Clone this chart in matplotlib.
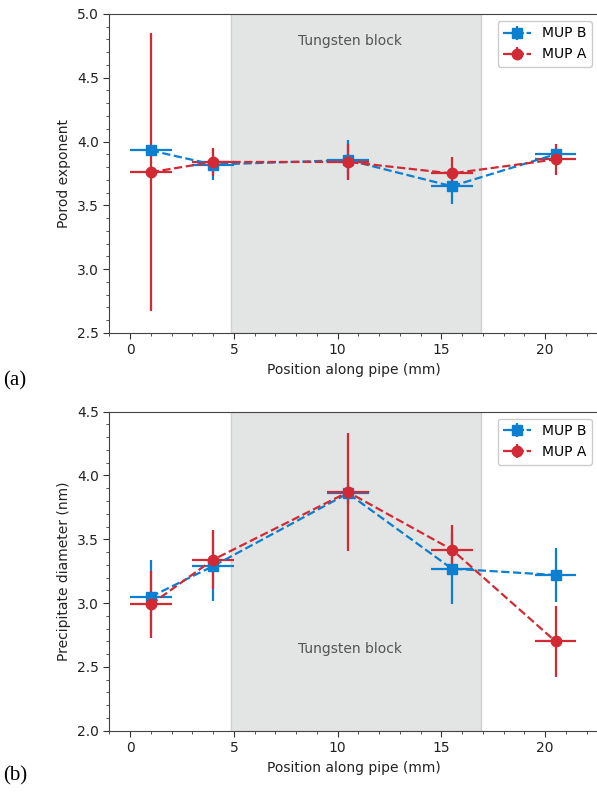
import matplotlib
matplotlib.use("Agg")
import matplotlib.pyplot as plt
from matplotlib.ticker import MultipleLocator

# positions along the pipe (mm), horizontal error is the beam width
pos = [1, 4, 10.5, 15.5, 20.5]
pos_err = [1, 1, 1, 1, 1]

# Porod exponent
porod_b = [3.93, 3.82, 3.855, 3.65, 3.90]
porod_b_err = [0.03, 0.12, 0.16, 0.14, 0.04]
porod_a = [3.76, 3.84, 3.84, 3.75, 3.86]
porod_a_err = [1.09, 0.11, 0.14, 0.13, 0.12]

# Precipitate diameter (nm)
diam_b = [3.05, 3.29, 3.86, 3.27, 3.22]
diam_b_err = [0.29, 0.27, 0.08, 0.28, 0.21]
diam_a = [2.99, 3.34, 3.87, 3.42, 2.70]
diam_a_err = [0.26, 0.23, 0.46, 0.19, 0.28]

block = (4.87, 16.92)
blue = '#0b7fd0'
red = '#d12a35'

plt.rcParams['font.family'] = 'DejaVu Sans'
plt.rcParams['font.size'] = 10

fig = plt.figure(figsize=(5.97, 7.96), dpi=100)
ax1 = fig.add_axes([0.1831, 0.5817, 0.8205, 0.4008])
ax2 = fig.add_axes([0.1831, 0.0820, 0.8205, 0.4008])


def panel(ax, yb, yb_err, ya, ya_err, ylim, ylabel, txt_y):
    ax.axvspan(block[0], block[1], facecolor='#e3e4e4', edgecolor='#cfd0d0', lw=1, zorder=0)
    ax.errorbar(pos, yb, yerr=yb_err, xerr=pos_err, color=blue, ls='--', marker='s',
                ms=7, lw=1.6, elinewidth=1.6, capsize=0, label='MUP B')
    ax.errorbar(pos, ya, yerr=ya_err, xerr=pos_err, color=red, ls='--', marker='o',
                ms=7.5, lw=1.6, elinewidth=1.6, capsize=0, label='MUP A')
    ax.text(10.6, txt_y, 'Tungsten block', color='#555555', ha='center', va='center', fontsize=10)
    ax.set_xlim(-1, 22.6)
    ax.set_ylim(*ylim)
    ax.xaxis.set_major_locator(MultipleLocator(5))
    ax.xaxis.set_minor_locator(MultipleLocator(1))
    ax.yaxis.set_major_locator(MultipleLocator(0.5))
    ax.yaxis.set_minor_locator(MultipleLocator(0.1))
    ax.tick_params(which='both', direction='out', colors='#333333', labelcolor='#222222')
    ax.tick_params(which='major', length=4)
    ax.tick_params(which='minor', length=2.5)
    for s in ax.spines.values():
        s.set_color('#444444')
    ax.set_xlabel('Position along pipe (mm)', color='#222222')
    ax.set_ylabel(ylabel, color='#222222')
    ax.legend(loc='upper right', fontsize=10, framealpha=1, edgecolor='#cccccc',
              handlelength=2.0)


panel(ax1, porod_b, porod_b_err, porod_a, porod_a_err, (2.5, 5.0), 'Porod exponent', 4.79)
panel(ax2, diam_b, diam_b_err, diam_a, diam_a_err, (2.0, 4.5), 'Precipitate diameter (nm)', 2.64)

fig.text(0.005, 0.521, '(a)', family='Liberation Serif', fontsize=15, va='center')
fig.text(0.005, 0.025, '(b)', family='Liberation Serif', fontsize=15, va='center')

fig.savefig('out.png', dpi=100)
